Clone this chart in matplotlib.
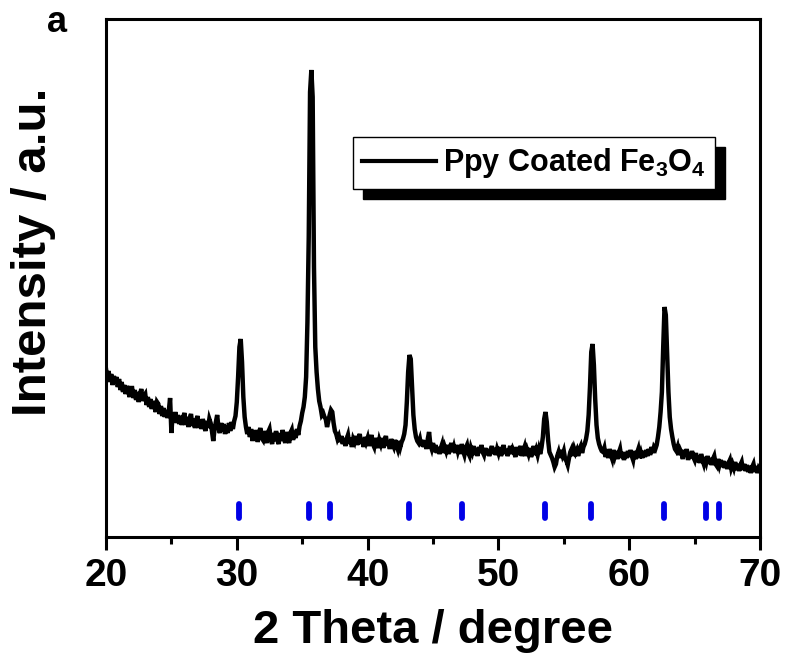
import numpy as np
import matplotlib
matplotlib.use("Agg")
from matplotlib import pyplot as plt

plt.rcParams['font.family'] = ['Liberation Sans', 'DejaVu Sans']
plt.rcParams['font.weight'] = 'bold'
plt.rcParams['mathtext.default'] = 'regular'

# 2theta grid, 0.1 degree steps from 20 to 70
two_theta = np.round(np.arange(20.0, 70.05, 0.1), 1)

# recorded intensity (a.u.), one row per degree
intensity = [
    168, 158, 166, 155, 163, 152, 161, 154, 160, 150,   # 20
    158, 147, 155, 145, 152, 143, 151, 146, 140, 149,   # 21
    149, 139, 147, 137, 145, 135, 143, 148, 136, 141,   # 22
    143, 132, 140, 130, 138, 128, 136, 131, 125, 135,   # 23
    133, 123, 131, 121, 129, 120, 127, 119, 126, 139,   # 24
    104, 124, 115, 125, 114, 122, 113, 121, 112, 120,   # 25
    124, 112, 120, 110, 119, 123, 111, 118, 109, 117,   # 26
    121, 109, 117, 108, 118, 112, 106, 116, 109, 118,   # 27
    114, 106, 96, 108, 115, 122, 109, 104, 114, 106,    # 28
    113, 103, 111, 104, 114, 106, 115, 108, 116, 121,   # 29
    135, 160, 190, 198, 175, 140, 120, 110, 103, 110,   # 30
    100, 108, 96, 106, 98, 107, 95, 104, 109, 99,       # 31
    97, 106, 99, 94, 105, 108, 98, 93, 104, 96,         # 32
    106, 97, 93, 104, 96, 107, 100, 94, 105, 99,        # 33
    94, 104, 107, 97, 106, 99, 108, 102, 111, 116,      # 34
    124, 130, 140, 160, 215, 300, 445, 467, 440, 270,   # 35
    190, 165, 148, 136, 130, 122, 124, 120, 118, 110,   # 36
    116, 122, 127, 125, 114, 106, 103, 98, 101, 95,     # 37
    101, 93, 99, 91, 98, 102, 93, 99, 90, 98,           # 38
    95, 101, 92, 99, 103, 93, 98, 90, 100, 95,          # 39
    99, 91, 97, 102, 93, 90, 99, 94, 89, 97,            # 40
    93, 99, 89, 97, 101, 91, 96, 88, 98, 93,            # 41
    90, 97, 92, 88, 96, 90, 95, 98, 103, 112,           # 42
    135, 165, 182, 178, 150, 122, 108, 100, 96, 94,     # 43
    98, 91, 97, 90, 96, 88, 98, 105, 92, 88,            # 44
    94, 85, 92, 84, 90, 83, 89, 93, 84, 90,             # 45
    86, 92, 83, 89, 94, 85, 90, 84, 92, 86,             # 46
    91, 83, 93, 86, 82, 89, 92, 84, 81, 89,             # 47
    85, 91, 82, 88, 81, 90, 84, 92, 85, 82,             # 48
    89, 82, 88, 81, 86, 91, 83, 89, 82, 88,             # 49
    84, 90, 81, 86, 92, 83, 88, 81, 86, 91,             # 50
    83, 88, 85, 80, 90, 82, 87, 91, 81, 86,             # 51
    90, 81, 87, 83, 89, 80, 85, 91, 82, 87,             # 52
    82, 88, 83, 90, 100, 118, 125, 115, 97, 85,         # 53
    82, 79, 75, 70, 73, 81, 85, 79, 87, 82,             # 54
    86, 78, 76, 72, 79, 85, 88, 81, 88, 84,             # 55
    87, 81, 88, 91, 84, 90, 93, 98, 106, 122,           # 56
    150, 185, 193, 172, 138, 112, 99, 93, 89, 86,       # 57
    85, 89, 80, 86, 79, 88, 82, 78, 87, 81,             # 58
    86, 78, 84, 88, 79, 85, 77, 84, 79, 86,             # 59
    80, 87, 81, 77, 86, 78, 84, 88, 79, 84,             # 60
    79, 86, 80, 87, 81, 88, 82, 90, 84, 90,             # 61
    88, 92, 100, 110, 125, 145, 190, 230, 222, 185,     # 62
    145, 120, 108, 100, 93, 88, 86, 90, 82, 87,         # 63
    84, 78, 87, 81, 88, 77, 84, 79, 86, 80,             # 64
    77, 84, 75, 81, 74, 83, 77, 73, 80, 75,             # 65
    81, 73, 79, 72, 78, 81, 73, 71, 78, 72,             # 66
    77, 70, 76, 69, 75, 68, 74, 77, 69, 73,             # 67
    69, 75, 67, 73, 66, 72, 75, 67, 73, 66,             # 68
    72, 65, 71, 64, 70, 73, 65, 71, 64, 69,             # 69
    67,                                                 # 70
]

# Fe3O4 reference reflections
ref_peaks = [30.15, 35.5, 37.15, 43.15, 47.25, 53.55, 57.05, 62.65, 65.85, 66.9]
ref_lo, ref_hi = 19, 33

fig = plt.figure(figsize=(7.87, 6.59), dpi=100)
ax = fig.add_axes([106/787, 1 - 537/659, 654/787, 518/659])

ax.plot(two_theta, intensity, color='black', lw=3.2, solid_joinstyle='miter',
        label=r'Ppy Coated Fe$_3$O$_4$')
ax.vlines(ref_peaks, ref_lo, ref_hi, colors='#0000e6', lw=4.2, capstyle='round')

ax.set_xlim(20, 70)
ax.set_ylim(0, 518)
ax.set_xticks(np.arange(20, 71, 10))
ax.set_xticks(np.arange(25, 70, 10), minor=True)
ax.set_yticks([])
for s in ax.spines.values():
    s.set_linewidth(2.2)
ax.tick_params(axis='x', which='major', direction='out', length=9, width=2.2,
               labelsize=28, pad=6)
ax.tick_params(axis='x', which='minor', direction='out', length=5, width=2.2)

ax.set_xlabel('2 Theta / degree', fontsize=34, fontweight='bold', labelpad=11)
ax.set_ylabel('Intensity / a.u.', fontsize=35.5, fontweight='bold')
ax.yaxis.set_label_coords(-0.077, 0.55)

leg = ax.legend(loc='upper left', bbox_to_anchor=(0.378, 0.772), fontsize=22,
                frameon=True, fancybox=False, borderaxespad=0, borderpad=0.3,
                handlelength=2.4, handletextpad=0.25,
                shadow={'ox': 7, 'oy': -7, 'color': 'black', 'alpha': 1})
leg.get_frame().set_edgecolor('black')
leg.get_frame().set_linewidth(1.0)
leg.get_lines()[0].set_linewidth(3)

fig.text(57/787, 1 - 22/659, 'a', fontsize=26, fontweight='bold',
         ha='center', va='center')

fig.savefig('out.png', dpi=100)
